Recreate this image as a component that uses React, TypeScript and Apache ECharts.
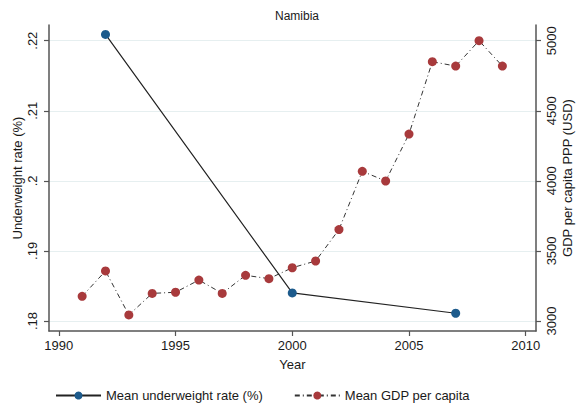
import React, { useEffect, useRef } from 'react';
import * as echarts from 'echarts';

const years = [1991, 1992, 1993, 1994, 1995, 1996, 1997, 1998, 1999, 2000,
  2001, 2002, 2003, 2004, 2005, 2006, 2007, 2008, 2009];
const gdp = [3176, 3357, 3043, 3197, 3205, 3292, 3197, 3326, 3302, 3380,
  3428, 3652, 4068, 3999, 4334, 4850, 4819, 5000, 4819];

const uwYears = [1992, 2000, 2007];
const underweight = [0.2209, 0.184, 0.1811];

const xTicks = [1990, 1995, 2000, 2005, 2010];
const leftTicks = [0.18, 0.19, 0.2, 0.21, 0.22];
const rightTicks = [3000, 3500, 4000, 4500, 5000];

const FONT = 'Liberation Sans';
const TEXT = '#1a1a1a';
const AXIS = '#555555';

const App: React.FC = () => {
  const chartRef = useRef<HTMLDivElement | null>(null);

  useEffect(() => {
    document.body.style.margin = '0';
    const chart = echarts.init(chartRef.current!, undefined, { renderer: 'svg' });

    const axisCommon = {
      axisLine: { show: true, lineStyle: { color: AXIS, width: 1.5 } },
      axisTick: { show: true, length: 5, lineStyle: { color: AXIS, width: 1.2 } },
      splitLine: { show: false },
      nameMoveOverlap: false,
      nameTextStyle: { fontFamily: FONT, fontSize: 13, color: TEXT },
    };

    const option = {
      animation: false,
      backgroundColor: '#ffffff',
      textStyle: { fontFamily: FONT, color: TEXT },
      title: {
        text: 'Namibia',
        left: 292,
        top: 5,
        textAlign: 'center',
        textStyle: { fontFamily: FONT, fontSize: 12, fontWeight: 'normal', color: TEXT },
      },
      grid: {
        left: 49,
        right: 40,
        top: 25,
        bottom: 79,
        containLabel: false,
        outerBoundsMode: 'none',
      },
      legend: {
        left: 55,
        top: 389,
        padding: 0,
        itemWidth: 45,
        itemHeight: 10,
        itemGap: 31,
        textStyle: { fontFamily: FONT, fontSize: 13, color: TEXT },
        data: ['Mean underweight rate (%)', 'Mean GDP per capita'],
      },
      xAxis: {
        type: 'value',
        min: 1989.58,
        max: 2010.44,
        name: 'Year',
        nameLocation: 'middle',
        nameGap: 27,
        ...axisCommon,
        axisTick: { ...axisCommon.axisTick, customValues: xTicks },
        axisLabel: {
          customValues: xTicks,
          margin: 8,
          fontFamily: FONT,
          fontSize: 13,
          color: TEXT,
          formatter: (v: number) => String(v),
        },
      },
      yAxis: [
        {
          type: 'value',
          min: 0.17857,
          max: 0.22224,
          position: 'left',
          name: 'Underweight rate (%)',
          nameLocation: 'middle',
          nameGap: 25,
          nameRotate: 90,
          ...axisCommon,
          axisTick: { ...axisCommon.axisTick, customValues: leftTicks },
          axisLabel: {
            customValues: leftTicks,
            rotate: 90,
            margin: 10,
            fontFamily: FONT,
            fontSize: 13,
            color: TEXT,
            formatter: (v: number) => String(+v.toFixed(2)).replace(/^0/, ''),
          },
        },
        {
          type: 'value',
          min: 2928.6,
          max: 5112,
          position: 'right',
          name: 'GDP per capita PPP (USD)',
          nameLocation: 'middle',
          nameGap: 25,
          nameRotate: 90,
          ...axisCommon,
          axisTick: { ...axisCommon.axisTick, customValues: rightTicks },
          axisLabel: {
            customValues: rightTicks,
            rotate: 90,
            margin: 9,
            fontFamily: FONT,
            fontSize: 13,
            color: TEXT,
            formatter: (v: number) => String(v),
          },
        },
      ],
      series: [
        {
          name: 'Mean underweight rate (%)',
          type: 'line',
          yAxisIndex: 0,
          data: uwYears.map((y, i) => [y, underweight[i]]),
          symbol: 'circle',
          symbolSize: 9,
          itemStyle: { color: '#1d5b8c' },
          lineStyle: { color: '#222222', width: 1.2 },
          z: 3,
          markLine: {
            silent: true,
            symbol: 'none',
            label: { show: false },
            lineStyle: { color: '#e6eff0', width: 1, type: 'solid' },
            z: 0,
            data: leftTicks.map((t) => ({ yAxis: t })),
          },
        },
        {
          name: 'Mean GDP per capita',
          type: 'line',
          yAxisIndex: 1,
          data: years.map((y, i) => [y, gdp[i]]),
          symbol: 'circle',
          symbolSize: 9,
          itemStyle: { color: '#a83a3c' },
          lineStyle: { color: '#333333', width: 1, type: [5, 3, 1, 3] },
          z: 2,
        },
      ],
    };

    chart.setOption(option as any);

    return () => {
      chart.dispose();
    };
  }, []);

  return <div ref={chartRef} style={{ width: '576px', height: '410px' }} />;
};

export default App;
